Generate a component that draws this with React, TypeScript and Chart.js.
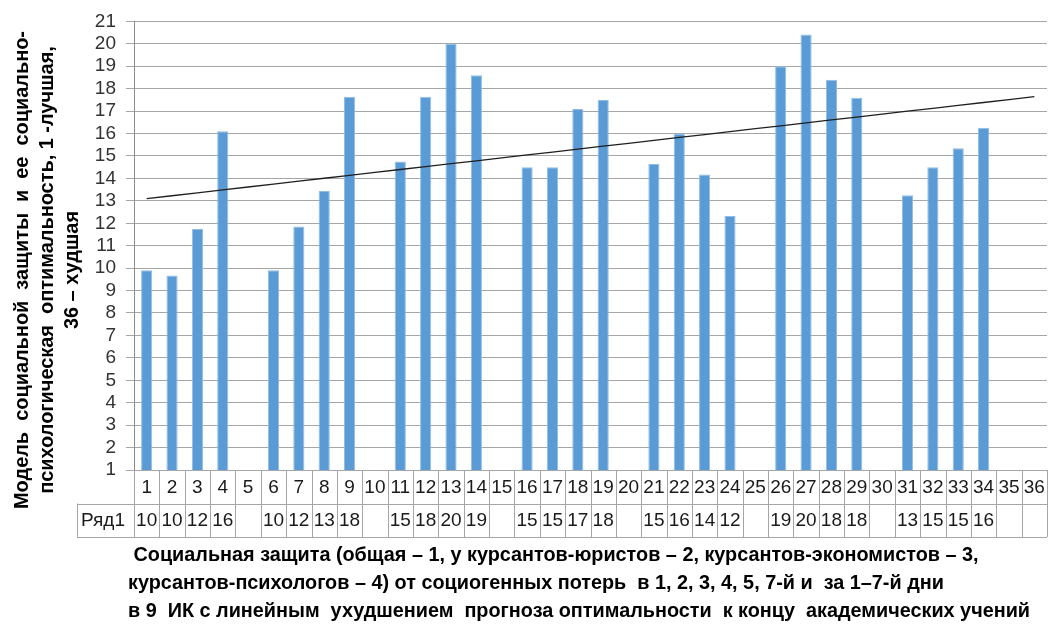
import React, { useEffect, useRef } from "react";
import { Chart, registerables } from "chart.js";

Chart.register(...registerables);

const categories: string[] = [
  "1", "2", "3", "4", "5", "6", "7", "8", "9", "10", "11", "12",
  "13", "14", "15", "16", "17", "18", "19", "20", "21", "22", "23", "24",
  "25", "26", "27", "28", "29", "30", "31", "32", "33", "34", "35", "36",
];

const seriesName = "Ряд1";

const values: (number | null)[] = [
  9.9, 9.67, 11.75, 16.1, null, 9.9, 11.86, 13.44, 17.64, null,
  14.75, 17.64, 20.0, 18.6, null, 14.5, 14.5, 17.1, 17.5, null,
  14.64, 16.0, 14.17, 12.32, null, 19.0, 20.42, 18.4, 17.6, null,
  13.25, 14.5, 15.34, 16.26, null, null,
];

const yTicks: number[] = [1, 21, 1]; // min, max, step

const yTitleLines: string[] = [
  "Модель  социальной  защиты  и  ее  социально-",
  "психологическая  оптимальность, 1 -лучшая,",
  "36 – худшая",
];

const xTitleLines: string[] = [
  " Социальная защита (общая – 1, у курсантов-юристов – 2, курсантов-экономистов – 3,",
  "курсантов-психологов – 4) от социогенных потерь  в 1, 2, 3, 4, 5, 7-й и  за 1–7-й дни",
  "в 9  ИК с линейным  ухудшением  прогноза оптимальности  к концу  академических учений",
];

// Linear trend (least squares over the plotted bars), as Excel's trendline
function linearTrend(vals: (number | null)[]): number[] {
  const pts: [number, number][] = [];
  vals.forEach((v, i) => {
    if (v !== null) pts.push([i + 1, v]);
  });
  const n = pts.length;
  const mx = pts.reduce((s, p) => s + p[0], 0) / n;
  const my = pts.reduce((s, p) => s + p[1], 0) / n;
  let sxy = 0;
  let sxx = 0;
  pts.forEach(([x, y]) => {
    sxy += (x - mx) * (y - my);
    sxx += (x - mx) * (x - mx);
  });
  const b = sxy / sxx;
  const a = my - b * mx;
  return vals.map((_, i) => a + b * (i + 1));
}

const FONT = "'Liberation Sans', Arial, sans-serif";
const BOLD_FONT = "'Liberation Sans', Arial, sans-serif";

const tablePlugin = {
  id: "tableAndTitles",
  afterDraw(chart: any) {
    const ctx: CanvasRenderingContext2D = chart.ctx;
    const area = chart.chartArea;
    const xs = chart.scales.x;
    const n = categories.length;
    const catW = (area.right - area.left) / n;
    const top = area.bottom;
    const r1 = top + 33.5;
    const r2 = top + 67;
    const labelLeft = 77;

    ctx.save();
    ctx.strokeStyle = "#a6a6a6";
    ctx.lineWidth = 1;
    ctx.beginPath();
    ctx.moveTo(labelLeft, Math.round(r1) + 0.5);
    ctx.lineTo(area.right, Math.round(r1) + 0.5);
    ctx.moveTo(labelLeft, Math.round(r2) + 0.5);
    ctx.lineTo(area.right, Math.round(r2) + 0.5);
    for (let i = 0; i <= n; i++) {
      const x = Math.round(area.left + i * catW) + 0.5;
      ctx.moveTo(x, top);
      ctx.lineTo(x, r2);
    }
    ctx.moveTo(labelLeft + 0.5, r1);
    ctx.lineTo(labelLeft + 0.5, r2);
    ctx.stroke();

    ctx.fillStyle = "#1a1a1a";
    ctx.font = `19px ${FONT}`;
    ctx.textBaseline = "middle";
    ctx.textAlign = "center";
    categories.forEach((c, i) => {
      const cx = xs.getPixelForValue(i);
      ctx.fillText(c, cx, (top + r1) / 2 + 1);
      const v = values[i];
      if (v !== null) ctx.fillText(String(Math.round(v)), cx, (r1 + r2) / 2 + 1);
    });
    ctx.textAlign = "left";
    ctx.fillText(seriesName, labelLeft + 4, (r1 + r2) / 2 + 1);

    // Y title
    ctx.fillStyle = "#000";
    ctx.font = `bold 20px ${BOLD_FONT}`;
    ctx.textAlign = "center";
    const yCenters = [22, 47, 72];
    const sY = 478 / ctx.measureText(yTitleLines[0]).width;
    yTitleLines.forEach((line, i) => {
      ctx.save();
      ctx.translate(yCenters[i], 270);
      ctx.rotate(-Math.PI / 2);
      ctx.scale(sY, 1);
      ctx.fillText(line, 0, 0);
      ctx.restore();
    });

    // X title
    ctx.textAlign = "left";
    const sX = 902 / ctx.measureText(xTitleLines[2]).width;
    const xYs = [555, 583, 611];
    xTitleLines.forEach((line, i) => {
      ctx.save();
      ctx.translate(128, xYs[i]);
      ctx.scale(sX, 1);
      ctx.fillText(line, 0, 0);
      ctx.restore();
    });
    ctx.restore();
  },
};

export default function App() {
  const ref = useRef<HTMLCanvasElement | null>(null);

  useEffect(() => {
    if (!ref.current) return;
    const trend = linearTrend(values);
    const chart = new Chart(ref.current, {
      type: "bar",
      data: {
        labels: categories,
        datasets: [
          {
            type: "line",
            label: "trend",
            data: trend,
            borderColor: "#1f1f1f",
            borderWidth: 1.3,
            pointRadius: 0,
            fill: false,
            order: 1,
          } as any,
          {
            type: "bar",
            label: seriesName,
            data: values as any,
            backgroundColor: "#5B9BD5",
            borderColor: "#8fbde6",
            borderWidth: { left: 1, right: 1, top: 1, bottom: 0 },
            barPercentage: 0.44,
            categoryPercentage: 1,
            order: 2,
          } as any,
        ],
      },
      options: {
        animation: false,
        responsive: false,
        maintainAspectRatio: false,
        layout: { padding: { left: 0, right: 12, top: 15, bottom: 157 } },
        plugins: {
          legend: { display: false },
          tooltip: { enabled: false },
          title: { display: false },
        },
        scales: {
          x: {
            display: false,
            offset: true,
            grid: { display: false },
          },
          y: {
            min: yTicks[0],
            max: yTicks[1],
            afterFit: (s: any) => {
              s.width = 134;
            },
            ticks: {
              stepSize: yTicks[2],
              autoSkip: false,
              padding: 10,
              color: "#333333",
              font: { family: FONT, size: 19 },
            },
            grid: {
              color: "#a6a6a6",
              lineWidth: 1,
              tickLength: 8,
              drawTicks: true,
            },
            border: { color: "#8c8c8c", width: 1 },
          },
        },
      },
      plugins: [tablePlugin],
    });
    return () => chart.destroy();
  }, []);

  return (
    <div
      style={{
        position: "fixed",
        left: 0,
        top: 0,
        width: 1059,
        height: 627,
        background: "#fff",
      }}
    >
      <canvas ref={ref} width={1059} height={627} style={{ width: 1059, height: 627 }} />
    </div>
  );
}
